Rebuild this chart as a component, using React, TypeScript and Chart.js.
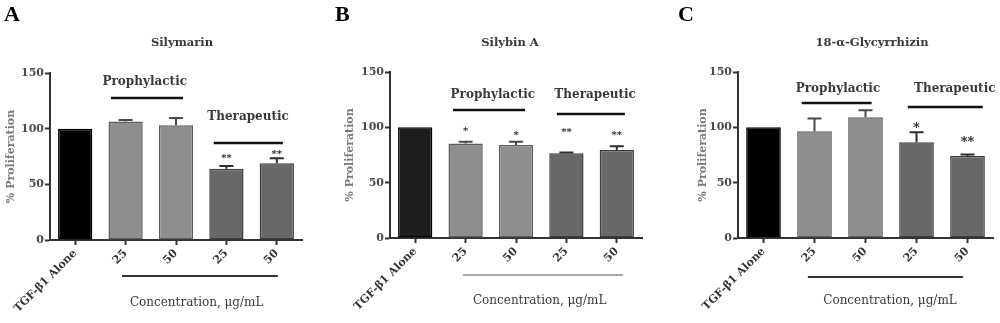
import { useEffect, useRef } from "react";
import { Chart, registerables } from "chart.js";

Chart.register(...registerables);

// ---------- data ----------
const categories = ["TGF-β1 Alone", "25", "50", "25", "50"];
const yTickValues = [0, 50, 100, 150];
const groupLabels = ["Prophylactic", "Therapeutic"];
const xAxisTitle = "Concentration, μg/mL";
const yAxisTitle = "% Proliferation";
const panelLetters = ["A", "B", "C"];
const panelTitles = ["Silymarin", "Silybin A", "18-α-Glycyrrhizin"];

const silymarinMeans = [100, 106.5, 103, 64, 69];
const silymarinErrors = [0, 1.2, 6.5, 2.5, 4.5];
const silymarinStars = ["", "", "", "**", "**"];
const silymarinStarY = [0, 0, 0, 76.5, 80];

const silybinMeans = [100, 85.5, 84, 76.5, 79.5];
const silybinErrors = [0, 1.5, 3, 0.8, 3.5];
const silybinStars = ["", "*", "*", "**", "**"];
const silybinStarY = [0, 99.5, 96, 98, 95.5];

const glycyrrhizinMeans = [100, 96.5, 109, 86.5, 74];
const glycyrrhizinErrors = [0, 11.5, 6.5, 9, 1.5];
const glycyrrhizinStars = ["", "", "", "*", "**"];
const glycyrrhizinStarY = [0, 0, 0, 103, 89.5];

// ---------- panel layout / style ----------
type Panel = {
  left: number;
  width: number;
  means: number[];
  errors: number[];
  stars: string[];
  starY: number[];
  letter: string;
  title: string;
  yAxisWidth: number;
  padTop: number;
  padRight: number;
  xAxisHeight: number;
  firstColor: string;
  letterX: number;
  titleX: number;
  yTitleX: number;
  starFont: number;
  groups: { label: string; tx: number; ty: number; x1: number; x2: number; ly: number }[];
  underline: { x1: number; x2: number; dy: number; color: string };
  concX: number;
};

const panels: Panel[] = [
  {
    left: 0, width: 330, means: silymarinMeans, errors: silymarinErrors, stars: silymarinStars, starY: silymarinStarY,
    letter: panelLetters[0], title: panelTitles[0],
    yAxisWidth: 50, padTop: 73, padRight: 28, xAxisHeight: 83, firstColor: "#000000",
    letterX: 4, titleX: 182, yTitleX: 11, starFont: 10,
    groups: [
      { label: groupLabels[0], tx: 1.38, ty: 142, x1: 0.71, x2: 2.14, ly: 127.5 },
      { label: groupLabels[1], tx: 3.43, ty: 110.5, x1: 2.75, x2: 4.12, ly: 87 },
    ],
    underline: { x1: 0.93, x2: 4.02, dy: 36, color: "#333333" },
    concX: 2.41,
  },
  {
    left: 330, width: 330, means: silybinMeans, errors: silybinErrors, stars: silybinStars, starY: silybinStarY,
    letter: panelLetters[1], title: panelTitles[1],
    yAxisWidth: 60, padTop: 72, padRight: 18, xAxisHeight: 85, firstColor: "#1e1e1e",
    letterX: 5, titleX: 180, yTitleX: 20, starFont: 10,
    groups: [
      { label: groupLabels[0], tx: 1.54, ty: 129, x1: 0.75, x2: 2.18, ly: 115.6 },
      { label: groupLabels[1], tx: 3.57, ty: 129, x1: 2.81, x2: 4.16, ly: 112 },
    ],
    underline: { x1: 0.95, x2: 4.12, dy: 37, color: "#a8a8a8" },
    concX: 2.47,
  },
  {
    left: 660, width: 340, means: glycyrrhizinMeans, errors: glycyrrhizinErrors, stars: glycyrrhizinStars, starY: glycyrrhizinStarY,
    letter: panelLetters[2], title: panelTitles[2],
    yAxisWidth: 78, padTop: 72, padRight: 7, xAxisHeight: 85, firstColor: "#000000",
    letterX: 18, titleX: 212, yTitleX: 43, starFont: 13,
    groups: [
      { label: groupLabels[0], tx: 1.46, ty: 134.6, x1: 0.75, x2: 2.12, ly: 122 },
      { label: groupLabels[1], tx: 3.75, ty: 134.6, x1: 2.83, x2: 4.3, ly: 118 },
    ],
    underline: { x1: 0.87, x2: 3.91, dy: 39, color: "#333333" },
    concX: 2.48,
  },
];

const FONT = "'DejaVu Serif', serif";
const lightFill = "#8e8e8e";
const lightBorder = "#5e5e5e";
const darkFill = "#686868";
const darkBorder = "#3e3e3e";
const axisColor = "#333333";
const textColor = "#3a3a3a";

function catX(chart: Chart, v: number): number {
  const s: any = chart.scales.x;
  const p0 = s.getPixelForValue(0);
  const p1 = s.getPixelForValue(1);
  return p0 + (p1 - p0) * v;
}

function makePlugin(panel: Panel) {
  return {
    id: "annotations",
    afterDatasetsDraw(chart: Chart) {
      const ctx = chart.ctx;
      const y: any = chart.scales.y;
      const area = chart.chartArea;
      ctx.save();
      const meta = chart.getDatasetMeta(0);
      panel.means.forEach((m, i) => {
        const e = panel.errors[i];
        const bar: any = meta.data[i];
        const cx = bar.x;
        const top = y.getPixelForValue(m);
        const cap = y.getPixelForValue(m + e);
        if (e > 0) {
          ctx.strokeStyle = i >= 3 ? "#2e2e2e" : "#4a4a4a";
          ctx.lineWidth = 2;
          ctx.beginPath();
          ctx.moveTo(cx, top);
          ctx.lineTo(cx, cap);
          ctx.moveTo(cx - 7, cap);
          ctx.lineTo(cx + 7, cap);
          ctx.stroke();
        }
        const s = panel.stars[i];
        if (s) {
          ctx.fillStyle = "#222";
          ctx.font = `bold ${panel.starFont}px ${FONT}`;
          ctx.textAlign = "center";
          ctx.textBaseline = "alphabetic";
          ctx.fillText(s, cx, y.getPixelForValue(panel.starY[i]) + panel.starFont * 0.58);
        }
      });
      panel.groups.forEach((g) => {
        ctx.fillStyle = textColor;
        ctx.font = `bold 12px ${FONT}`;
        ctx.textAlign = "center";
        ctx.textBaseline = "middle";
        ctx.fillText(g.label, catX(chart, g.tx), y.getPixelForValue(g.ty));
        ctx.strokeStyle = "#111";
        ctx.lineWidth = 2.5;
        ctx.beginPath();
        const ly = Math.round(y.getPixelForValue(g.ly));
        ctx.moveTo(catX(chart, g.x1), ly);
        ctx.lineTo(catX(chart, g.x2), ly);
        ctx.stroke();
      });
      ctx.strokeStyle = panel.underline.color;
      ctx.lineWidth = 2;
      ctx.beginPath();
      ctx.moveTo(catX(chart, panel.underline.x1), area.bottom + panel.underline.dy);
      ctx.lineTo(catX(chart, panel.underline.x2), area.bottom + panel.underline.dy);
      ctx.stroke();
      ctx.fillStyle = textColor;
      ctx.font = `12px ${FONT}`;
      ctx.textAlign = "center";
      ctx.textBaseline = "middle";
      ctx.fillText(xAxisTitle, catX(chart, panel.concX), area.bottom + 63);
      ctx.font = `bold 11.5px ${FONT}`;
      ctx.fillStyle = "#3a3a3a";
      ctx.fillText(panel.title, panel.titleX, 43);
      ctx.font = "bold 22px 'Liberation Serif', serif";
      ctx.fillStyle = "#000";
      ctx.textAlign = "left";
      ctx.fillText(panel.letter, panel.letterX, 15);
      ctx.save();
      ctx.translate(panel.yTitleX, (area.top + area.bottom) / 2);
      ctx.rotate(-Math.PI / 2);
      ctx.font = `bold 11px ${FONT}`;
      ctx.fillStyle = "#7a7a7a";
      ctx.textAlign = "center";
      ctx.textBaseline = "middle";
      ctx.fillText(yAxisTitle, 0, 0);
      ctx.restore();
      ctx.restore();
    },
  };
}

function PanelChart({ panel }: { panel: Panel }) {
  const ref = useRef<HTMLCanvasElement | null>(null);
  useEffect(() => {
    if (!ref.current) return;
    const colors = panel.means.map((_, i) => (i === 0 ? panel.firstColor : i <= 2 ? lightFill : darkFill));
    const borders = panel.means.map((_, i) => (i === 0 ? "#000" : i <= 2 ? lightBorder : darkBorder));
    const chart = new Chart(ref.current, {
      type: "bar",
      data: {
        labels: categories,
        datasets: [
          {
            data: panel.means,
            backgroundColor: colors,
            borderColor: borders,
            borderWidth: 1.5,
            borderSkipped: false,
            barPercentage: 0.68,
            categoryPercentage: 1,
          },
        ],
      },
      options: {
        animation: false,
        responsive: false,
        devicePixelRatio: 1,
        layout: { padding: { left: 0, top: panel.padTop, right: panel.padRight, bottom: 0 } },
        plugins: { legend: { display: false }, tooltip: { enabled: false }, title: { display: false } },
        scales: {
          x: {
            offset: true,
            grid: { display: true, drawOnChartArea: false, offset: false, tickLength: 5, tickWidth: 2, tickColor: axisColor },
            border: { display: true, color: axisColor, width: 2 },
            ticks: {
              autoSkip: false,
              minRotation: 45,
              maxRotation: 45,
              padding: 2,
              color: "#333",
              font: { family: FONT, size: 11, weight: "bold" },
            },
            afterFit: (s: any) => { s.height = panel.xAxisHeight; },
          },
          y: {
            min: 0,
            max: 150,
            afterBuildTicks: (s: any) => { s.ticks = yTickValues.map((v) => ({ value: v })); },
            grid: { display: true, drawOnChartArea: false, tickLength: 5, tickWidth: 2, tickColor: axisColor },
            border: { display: true, color: axisColor, width: 2 },
            ticks: {
              padding: 1,
              color: "#4a4a4a",
              font: { family: FONT, size: 11, weight: "bold" },
            },
            afterFit: (s: any) => { s.width = panel.yAxisWidth; },
          },
        },
      } as any,
      plugins: [makePlugin(panel)],
    });
    return () => chart.destroy();
  }, [panel]);
  return (
    <div style={{ position: "absolute", left: panel.left, top: 0, width: panel.width, height: 323 }}>
      <canvas ref={ref} width={panel.width} height={323} style={{ width: panel.width, height: 323 }} />
    </div>
  );
}

export default function App() {
  return (
    <div style={{ position: "fixed", left: 0, top: 0, width: 1000, height: 323, background: "#fff", overflow: "hidden" }}>
      {panels.map((p, i) => (
        <PanelChart key={i} panel={p} />
      ))}
    </div>
  );
}
